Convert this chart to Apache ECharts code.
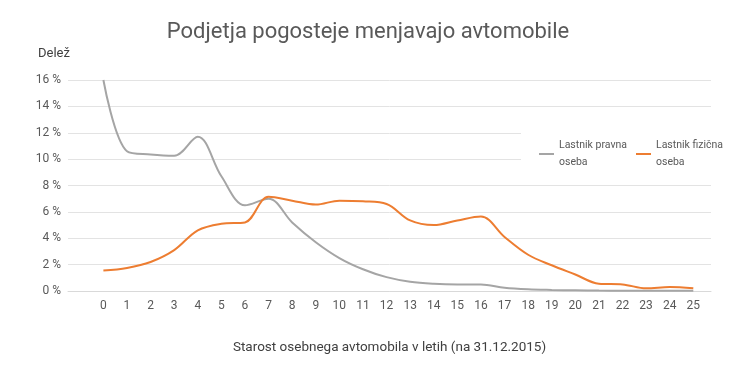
<!DOCTYPE html>
<html>
<head>
<meta charset="utf-8">
<script src="https://cdn.jsdelivr.net/npm/echarts@6/dist/echarts.min.js"></script>
<style>html,body{margin:0;padding:0;background:#fff}#c{width:736px;height:374px}</style>
</head>
<body>
<div id="c"></div>
<script>
var FONT = "'Roboto','Liberation Sans',sans-serif";
var ages = [0,1,2,3,4,5,6,7,8,9,10,11,12,13,14,15,16,17,18,19,20,21,22,23,24,25];
var pravna = [16.0,10.6,10.35,10.25,11.7,8.7,6.5,7.0,5.2,3.7,2.5,1.65,1.05,0.7,0.55,0.5,0.5,0.25,0.13,0.08,0.05,0.03,0.02,0.02,0.01,0.01];
var fizicna = [1.55,1.75,2.2,3.1,4.6,5.1,5.2,7.15,6.85,6.55,6.85,6.8,6.6,5.35,5.0,5.35,5.65,4.1,2.75,1.95,1.25,0.55,0.5,0.2,0.3,0.2];
var yTicks = [0,2,4,6,8,10,12,14,16];
var seriesNames = ['Lastnik pravna\noseba','Lastnik fizična\noseba'];

function pairs(arr){ return ages.map(function(a,i){ return [a, arr[i]]; }); }

var chart = echarts.init(document.getElementById('c'));
chart.setOption({
  animation: false,
  textStyle: {fontFamily: FONT},
  title: {
    text: 'Podjetja pogosteje menjavajo avtomobile',
    left: 'center', top: 16,
    textStyle: {fontFamily: FONT, fontSize: 22, fontWeight: 'normal', color: '#595959'}
  },
  graphic: [{
    type: 'text', left: 38, top: 47,
    style: {text: 'Delež', font: '13px ' + FONT, fill: '#404040'}
  }],
  legend: {
    left: 521, top: 128, width: 205,
    orient: 'horizontal',
    itemWidth: 15, itemHeight: 2, itemGap: 9,
    icon: 'rect',
    backgroundColor: '#ffffff',
    padding: [9, 4, 12, 18],
    textStyle: {fontFamily: FONT, fontSize: 10.5, color: '#595959', lineHeight: 17},
    data: seriesNames
  },
  grid: {left: 68, right: 25, top: 80, bottom: 83},
  xAxis: {
    type: 'value', min: -1.5, max: 25.75, interval: 0.25,
    name: 'Starost osebnega avtomobila v letih (na 31.12.2015)',
    nameLocation: 'middle', nameGap: 50,
    nameTextStyle: {fontFamily: FONT, fontSize: 13.5, color: '#404040'},
    axisLine: {show: true, lineStyle: {color: '#d9d9d9', width: 1}},
    axisTick: {show: false},
    splitLine: {show: false},
    axisLabel: {
      color: '#595959', fontSize: 12, margin: 9, fontFamily: FONT,
      showMinLabel: true, showMaxLabel: true,
      formatter: function(v){ return (ages.indexOf(v) >= 0) ? String(v) : ''; }
    }
  },
  yAxis: {
    type: 'value', min: 0, max: 16, interval: 2,
    axisLine: {show: false}, axisTick: {show: false},
    splitLine: {lineStyle: {color: '#e3e3e3', width: 1}},
    axisLabel: {color: '#595959', fontSize: 12, margin: 7, fontFamily: FONT,
      formatter: function(v){ return yTicks.indexOf(v) >= 0 ? v + ' %' : ''; }}
  },
  series: [
    {name: seriesNames[0], type: 'line', data: pairs(pravna), smooth: 0.35, showSymbol: false,
     lineStyle: {color: '#a5a5a5', width: 2}, itemStyle: {color: '#a5a5a5'}, z: 2},
    {name: seriesNames[1], type: 'line', data: pairs(fizicna), smooth: 0.35, showSymbol: false,
     lineStyle: {color: '#ed7d31', width: 2}, itemStyle: {color: '#ed7d31'}, z: 3}
  ]
});
</script>
</body>
</html>
